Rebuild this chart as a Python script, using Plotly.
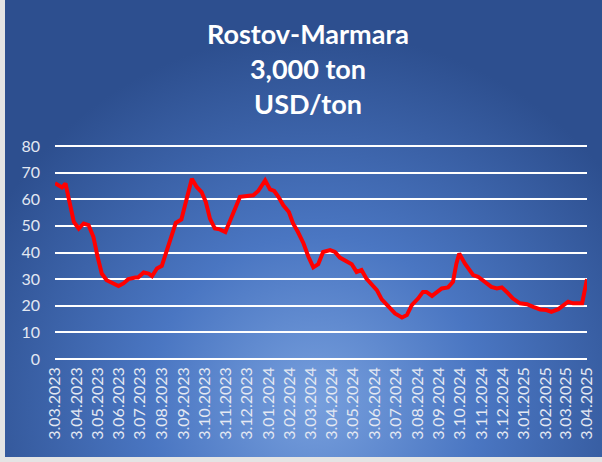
import base64
import plotly.graph_objects as go

# ---- data ----
dates = [
    "2023-03-03", "2023-03-13", "2023-03-18", "2023-03-25", "2023-03-30", "2023-04-06",
    "2023-04-13", "2023-04-20", "2023-04-27", "2023-05-03", "2023-05-09", "2023-05-16",
    "2023-05-26", "2023-06-02", "2023-06-09", "2023-06-16", "2023-06-26", "2023-06-30",
    "2023-07-08", "2023-07-15", "2023-07-20", "2023-07-27", "2023-08-03", "2023-08-10",
    "2023-08-17", "2023-08-23", "2023-08-31", "2023-09-05", "2023-09-15", "2023-09-22",
    "2023-09-29", "2023-10-05", "2023-10-11", "2023-10-18", "2023-10-25", "2023-11-02",
    "2023-11-09", "2023-11-16", "2023-11-23", "2023-12-03", "2023-12-12", "2023-12-19",
    "2023-12-29", "2024-01-05", "2024-01-11", "2024-01-17", "2024-01-24", "2024-02-01",
    "2024-02-07", "2024-02-14", "2024-02-22", "2024-02-29", "2024-03-07", "2024-03-14",
    "2024-03-21", "2024-03-31", "2024-04-07", "2024-04-14", "2024-04-21", "2024-05-01",
    "2024-05-08", "2024-05-15", "2024-05-22", "2024-05-30", "2024-06-06", "2024-06-13",
    "2024-06-22", "2024-07-02", "2024-07-12", "2024-07-19", "2024-07-26", "2024-08-04",
    "2024-08-11", "2024-08-16", "2024-08-24", "2024-08-31", "2024-09-07", "2024-09-16",
    "2024-09-23", "2024-09-28", "2024-10-02", "2024-10-10", "2024-10-22", "2024-10-29",
    "2024-11-08", "2024-11-17", "2024-11-25", "2024-12-02", "2024-12-09", "2024-12-18",
    "2024-12-28", "2025-01-07", "2025-01-16", "2025-01-26", "2025-02-04", "2025-02-11",
    "2025-02-21", "2025-02-28", "2025-03-07", "2025-03-14", "2025-03-27", "2025-04-03",
]
prices = [
    66.0, 64.4, 65.9, 58.4, 51.5, 49.0,
    50.9, 50.3, 45.9, 38.4, 32.1, 29.6,
    28.1, 27.4, 28.4, 30.0, 30.6, 30.6,
    32.5, 32.1, 31.1, 34.0, 35.0, 40.9,
    47.1, 51.1, 52.4, 58.0, 67.7, 64.6,
    62.7, 59.0, 52.7, 49.0, 48.7, 47.7,
    52.1, 55.9, 60.9, 61.2, 61.5, 63.1,
    67.1, 63.7, 63.1, 60.9, 57.7, 55.2,
    50.9, 47.7, 43.4, 38.4, 34.4, 35.6,
    40.2, 40.9, 40.2, 38.1, 36.9, 35.6,
    32.7, 33.4, 30.2, 27.7, 25.9, 22.4,
    19.9, 17.1, 15.6, 16.5, 20.2, 22.7,
    25.2, 25.2, 23.7, 25.2, 26.5, 26.9,
    29.0, 35.9, 39.6, 35.9, 31.5, 30.9,
    29.0, 27.1, 26.5, 26.9, 25.2, 22.7,
    20.9, 20.6, 19.6, 18.6, 18.4, 17.7,
    18.7, 19.9, 21.5, 20.9, 20.9, 30.0,
]
tick_dates = [
    "2023-03-03", "2023-04-03", "2023-05-03", "2023-06-03", "2023-07-03", "2023-08-03",
    "2023-09-03", "2023-10-03", "2023-11-03", "2023-12-03", "2024-01-03", "2024-02-03",
    "2024-03-03", "2024-04-03", "2024-05-03", "2024-06-03", "2024-07-03", "2024-08-03",
    "2024-09-03", "2024-10-03", "2024-11-03", "2024-12-03", "2025-01-03", "2025-02-03",
    "2025-03-03", "2025-04-03",
]
tick_labels = [
    "3.03.2023", "3.04.2023", "3.05.2023", "3.06.2023", "3.07.2023", "3.08.2023",
    "3.09.2023", "3.10.2023", "3.11.2023", "3.12.2023", "3.01.2024", "3.02.2024",
    "3.03.2024", "3.04.2024", "3.05.2024", "3.06.2024", "3.07.2024", "3.08.2024",
    "3.09.2024", "3.10.2024", "3.11.2024", "3.12.2024", "3.01.2025", "3.02.2025",
    "3.03.2025", "3.04.2025",
]
y_ticks = [0, 10, 20, 30, 40, 50, 60, 70, 80]
title_lines = ["Rostov-Marmara", "3,000 ton", "USD/ton"]

# ---- layout geometry ----
W, H = 602, 462
YMIN, YMAX = -1.5, 81.5
PX_PER_UNIT = (359 - 145.7) / 80
ML, MR = 55, 15
MT = round(145.7 - (YMAX - 80) * PX_PER_UNIT)
MB = round(H - (359 + (0 - YMIN) * PX_PER_UNIT))
PW, PH = W - ML - MR, H - MT - MB

# background gradient (chart area) as an SVG image
BX0, BY0, BX1, BY1 = 5, 0, 602, 457
bw, bh = BX1 - BX0, BY1 - BY0
svg = f'''<svg xmlns="http://www.w3.org/2000/svg" width="{bw}" height="{bh}" viewBox="0 0 {bw} {bh}">
<defs><radialGradient id="g" gradientUnits="userSpaceOnUse" cx="{bw*0.52}" cy="{bh*0.88}" r="{bw*0.62}">
<stop offset="0" stop-color="#779fdd"/>
<stop offset="0.45" stop-color="#4a76c2"/>
<stop offset="1" stop-color="#2d4f8f"/>
</radialGradient></defs>
<rect x="0" y="0" width="{bw}" height="{bh}" fill="url(#g)"/>
</svg>'''
src = "data:image/svg+xml;base64," + base64.b64encode(svg.encode()).decode()

def px_to_paper_x(px):
    return (px - ML) / PW

def py_to_paper_y(py):
    return (H - MB - py) / PH

fig = go.Figure()
fig.add_trace(go.Scatter(
    x=dates, y=prices, mode="lines",
    line=dict(color="#ff0000", width=4),
    hoverinfo="x+y", showlegend=False,
))

fig.add_layout_image(dict(
    source=src, xref="paper", yref="paper",
    x=px_to_paper_x(BX0), y=py_to_paper_y(BY0),
    sizex=bw / PW, sizey=bh / PH,
    xanchor="left", yanchor="top", sizing="stretch", layer="below",
))

fig.add_annotation(
    text="<br>".join(f"<b>{t}</b>" for t in title_lines),
    xref="paper", yref="paper", x=px_to_paper_x(308), y=py_to_paper_y(68),
    xanchor="center", yanchor="middle", showarrow=False,
    font=dict(family="Lato", size=27, color="white"),
)

fig.update_layout(
    width=W, height=H,
    margin=dict(l=ML, r=MR, t=MT, b=MB, pad=0, autoexpand=False),
    paper_bgcolor="#e4e4e4",
    plot_bgcolor="rgba(0,0,0,0)",
    font=dict(family="Lato", color="#e3e8f2", size=16),
    xaxis=dict(
        type="date", range=[tick_dates[0], tick_dates[-1]],
        tickmode="array", tickvals=tick_dates,
        ticktext=tick_labels, tickangle=-90, automargin=False,
        showgrid=False, zeroline=False, showline=False, ticks="",
        tickfont=dict(family="Lato", size=16, color="#e3e8f2"),
    ),
    yaxis=dict(
        range=[YMIN, YMAX], tickmode="array", tickvals=y_ticks, automargin=False,
        showgrid=True, gridcolor="white", gridwidth=1.6,
        zeroline=False, showline=False, ticks="",
        ticklabelstandoff=14,
        tickfont=dict(family="Lato", size=16, color="#e3e8f2"),
    ),
)

fig.write_html(
    "out.html",
    config={"displayModeBar": False},
    post_script="document.body.style.margin='0';",
)
